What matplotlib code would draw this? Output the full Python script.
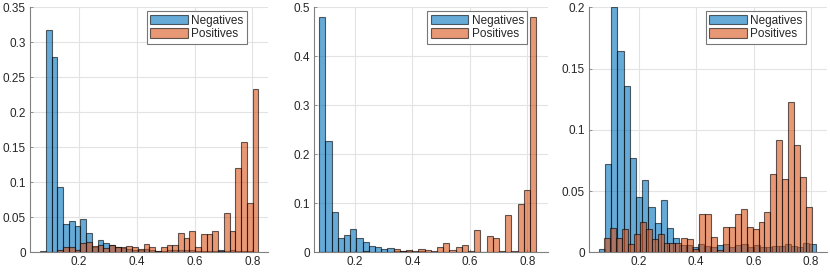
import numpy as np
import matplotlib
matplotlib.use("Agg")
import matplotlib.pyplot as plt

plt.rcParams['font.family'] = ['Liberation Sans', 'DejaVu Sans']

labels = ["Negatives", "Positives"]

# Panel 1 (shared bin edges)
p1_start, p1_width = 0.0648, 0.0199
neg1 = [0.002, 0.317, 0.279, 0.094, 0.040, 0.045, 0.037, 0.047, 0.028, 0.007,
        0.017, 0.013, 0.010, 0.008, 0.006, 0.005, 0.004, 0.004, 0.005, 0.003,
        0.002, 0.002, 0.003, 0.003, 0.004, 0.003, 0.003, 0.002, 0.002, 0.002,
        0.002, 0.003, 0.002, 0.003, 0.002, 0.002, 0.002, 0.001]
pos1 = [0.0, 0.0, 0.0, 0.003, 0.008, 0.007, 0.004, 0.013, 0.015, 0.009,
        0.011, 0.006, 0.010, 0.008, 0.008, 0.009, 0.007, 0.005, 0.012, 0.007,
        0.002, 0.007, 0.010, 0.011, 0.027, 0.021, 0.030, 0.008, 0.026, 0.026,
        0.031, 0.002, 0.056, 0.031, 0.121, 0.157, 0.071, 0.233]

# Panel 2 (shared bin edges)
p2_start, p2_width = 0.076, 0.02157
neg2 = [0.480, 0.228, 0.082, 0.030, 0.035, 0.047, 0.030, 0.022, 0.013, 0.010,
        0.006, 0.008, 0.003, 0.002, 0.002, 0.001, 0.002, 0.001, 0.001, 0.001,
        0.001, 0.001, 0.001, 0.001, 0.001, 0.001, 0.001, 0.001, 0.001, 0.001,
        0.001, 0.001, 0.001, 0.001, 0.001]
pos2 = [0.0, 0.0, 0.0, 0.0, 0.0, 0.0, 0.001, 0.002, 0.001, 0.001,
        0.001, 0.001, 0.007, 0.003, 0.005, 0.003, 0.007, 0.004, 0.003, 0.011,
        0.018, 0.005, 0.011, 0.015, 0.003, 0.045, 0.001, 0.033, 0.029, 0.003,
        0.077, 0.003, 0.098, 0.128, 0.480]

# Panel 3 (separate bin edges)
n3_start, n3_width = 0.0605, 0.0216
p3_start, p3_width = 0.079, 0.0207
neg3 = [0.003, 0.072, 0.200, 0.164, 0.136, 0.077, 0.045, 0.059, 0.037, 0.024,
        0.043, 0.020, 0.0114, 0.006, 0.006, 0.004, 0.007, 0.005, 0.004, 0.006,
        0.007, 0.004, 0.006, 0.007, 0.004, 0.006, 0.004, 0.004, 0.005, 0.005,
        0.007, 0.005, 0.004, 0.008, 0.0065]
pos3 = [0.012, 0.020, 0.012, 0.019, 0.0065, 0.015, 0.0245, 0.019, 0.0106, 0.0147,
        0.008, 0.008, 0.008, 0.012, 0.011, 0.003, 0.031, 0.031, 0.0125, 0.002,
        0.0207, 0.0207, 0.031, 0.035, 0.0207, 0.019, 0.0245, 0.0327, 0.0637, 0.092,
        0.0596, 0.123, 0.088, 0.0618, 0.0373]

xticks = [0.2, 0.4, 0.6, 0.8]
ylims = [0.35, 0.5, 0.2]
ysteps = [0.05, 0.1, 0.05]
xlims = [(0.030, 0.854), (0.058, 0.872), (0.026, 0.856)]

panels = [
    ((p1_start, p1_width, neg1), (p1_start, p1_width, pos1)),
    ((p2_start, p2_width, neg2), (p2_start, p2_width, pos2)),
    ((n3_start, n3_width, neg3), (p3_start, p3_width, pos3)),
]

W, H = 830, 274
fig = plt.figure(figsize=(W / 100, H / 100), dpi=100)
boxes_px = [(30, 268), (314, 548), (589, 827)]
top_px, bot_px = 7.3, 252.3

blue = (0, 0.447, 0.741)
orange = (0.85, 0.325, 0.098)
txt = '#262626'
axcol = '#808080'

def fmt(v):
    s = ('%.2f' % v).rstrip('0').rstrip('.')
    return s if s else '0'

for i, ((ns, nw, nv), (ps, pw, pv)) in enumerate(panels):
    l, r = boxes_px[i]
    ax = fig.add_axes([l / W, (H - bot_px) / H, (r - l) / W, (bot_px - top_px) / H])
    nedges = ns + nw * np.arange(len(nv) + 1)
    pedges = ps + pw * np.arange(len(pv) + 1)
    ax.hist(nedges[:-1] + nw / 2, bins=nedges, weights=nv, color=blue, alpha=0.6,
            edgecolor='black', linewidth=0.8, label=labels[0], zorder=2)
    ax.hist(pedges[:-1] + pw / 2, bins=pedges, weights=pv, color=orange, alpha=0.6,
            edgecolor='black', linewidth=0.8, label=labels[1], zorder=3)
    ax.set_xlim(*xlims[i])
    ax.set_ylim(0, ylims[i])
    ax.set_xticks(xticks)
    ax.set_xticklabels([fmt(t) for t in xticks])
    yt = np.round(np.arange(0, ylims[i] + 1e-9, ysteps[i]), 3)
    ax.set_yticks(yt)
    ax.set_yticklabels([fmt(t) for t in yt])
    ax.grid(True, color='#e3e3e3', linewidth=0.8, zorder=0)
    ax.set_axisbelow(True)
    for s in ['top', 'right']:
        ax.spines[s].set_visible(False)
    for s in ['left', 'bottom']:
        ax.spines[s].set_color(axcol)
        ax.spines[s].set_linewidth(0.8)
    ax.tick_params(direction='in', length=2.5, width=0.6, color=axcol,
                   labelsize=8.5, labelcolor=txt, pad=3)
    leg = ax.legend(loc='upper right', bbox_to_anchor=(0.912, 0.985), fontsize=8.5,
                    frameon=True, fancybox=False, framealpha=1, edgecolor='#777777',
                    handlelength=3.2, handleheight=0.85, handletextpad=0.28,
                    borderpad=0.3, labelspacing=0.15, borderaxespad=0.0)
    leg.get_frame().set_linewidth(0.8)
    for t in leg.get_texts():
        t.set_color(txt)

fig.savefig('out.png', dpi=100)
